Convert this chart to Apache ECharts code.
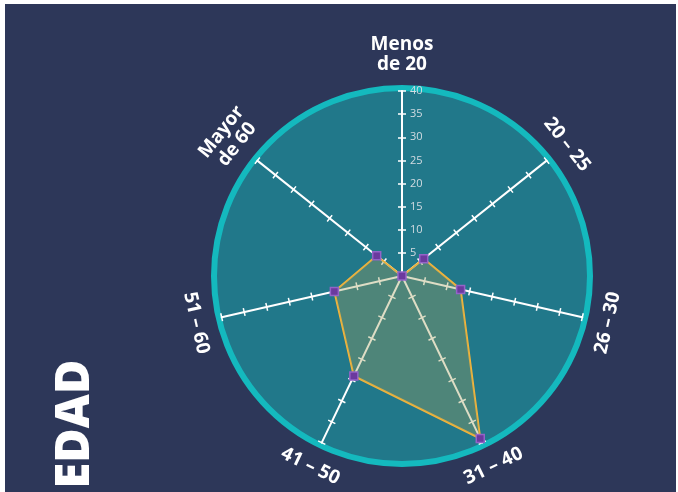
<!DOCTYPE html>
<html>
<head>
<meta charset="utf-8">
<script src="https://cdn.jsdelivr.net/npm/echarts@6/dist/echarts.min.js"></script>
<style>
  html, body {margin:0; padding:0; background:#fff;}
  #chart {position:absolute; left:5px; top:4px; width:671px; height:488px; background:#2d3759;}
</style>
</head>
<body>
<div id="chart"></div>
<script>
// categorias en el orden del dibujo (sentido horario desde arriba)
const categories = ['Menos\nde 20', '20 – 25', '26 – 30', '31 – 40', '41 – 50', '51 – 60', 'Mayor\nde 60'];
const values = [0, 6, 13, 39, 24, 15, 7];
const axisMax = 40;
const axisStep = 5;

const FONT = '"Open Sans", "Noto Sans", sans-serif';
const center = [397, 272];
const radius = 185;

// echarts pone los ejes del radar en sentido antihorario, se invierte el orden
const order = [0];
for (let i = categories.length - 1; i > 0; i--) order.push(i);

// rotacion tangente al circulo para cada nombre
const step = 360 / categories.length;
function nameRotate(i) {
  let r = -step * i;
  while (r <= -90) r += 180;
  while (r > 90) r -= 180;
  return r;
}

const mainIndicators = order.map(function (i, k) {
  const ind = {name: categories[i], min: 0, max: axisMax, nameRotate: nameRotate(i)};
  if (k === 0) {
    // numeros solo en el eje de arriba, a la derecha
    ind.axisLabel = {
      show: true, showMinLabel: false, color: '#d3dce2', fontSize: 11,
      fontFamily: FONT, margin: -8, align: 'left'
    };
  }
  return ind;
});
const plainIndicators = order.map(function (i) {
  return {name: '', min: 0, max: axisMax};
});

const chart = echarts.init(document.getElementById('chart'));
const option = {
  backgroundColor: '#2d3759',
  graphic: [{
    type: 'text',
    x: 71, y: 420,
    rotation: Math.PI / 2,
    style: {
      text: 'EDAD', fill: '#ffffff', fontSize: 47, fontWeight: 800,
      fontFamily: FONT, textAlign: 'center', textVerticalAlign: 'middle'
    }
  }],
  radar: [
    // fondo del circulo
    {
      shape: 'circle', center: center, radius: radius + 3, splitNumber: 1,
      indicator: plainIndicators, axisName: {show: false},
      axisLine: {show: false}, axisTick: {show: false},
      splitLine: {show: false},
      splitArea: {show: true, areaStyle: {color: ['#21788a']}}
    },
    // borde turquesa
    {
      shape: 'circle', center: center, radius: radius + 3, splitNumber: 1,
      indicator: plainIndicators, axisName: {show: false},
      axisLine: {show: false}, axisTick: {show: false},
      splitLine: {show: true, lineStyle: {color: '#14b9be', width: 6}},
      splitArea: {show: false}
    },
    // ejes, marcas y nombres
    {
      shape: 'circle', center: center, radius: radius,
      splitNumber: axisMax / axisStep,
      indicator: mainIndicators, nameGap: 16,
      axisName: {
        color: '#ffffff', fontSize: 19, fontWeight: 700, fontFamily: FONT, lineHeight: 20
      },
      axisLine: {show: true, lineStyle: {color: '#ffffff', width: 2}},
      axisTick: {show: true, length: 4, lineStyle: {color: '#ffffff', width: 1.5}},
      splitLine: {show: false},
      splitArea: {show: false}
    },
    // marcas del otro lado del eje
    {
      shape: 'circle', center: center, radius: radius,
      splitNumber: axisMax / axisStep,
      indicator: plainIndicators, axisName: {show: false},
      axisLine: {show: false},
      axisTick: {show: true, length: -4, lineStyle: {color: '#ffffff', width: 1.5}},
      splitLine: {show: false},
      splitArea: {show: false}
    }
  ],
  series: [{
    type: 'radar',
    radarIndex: 2,
    z: 3,
    symbol: 'rect',
    symbolSize: 8,
    itemStyle: {color: '#6b3a9e', borderColor: '#9463c8', borderWidth: 1.5},
    lineStyle: {color: '#f6b53a', width: 2},
    areaStyle: {color: 'rgba(161,158,92,0.5)'},
    data: [{value: order.map(function (i) { return values[i]; })}]
  }]
};
chart.setOption(option);
</script>
</body>
</html>
